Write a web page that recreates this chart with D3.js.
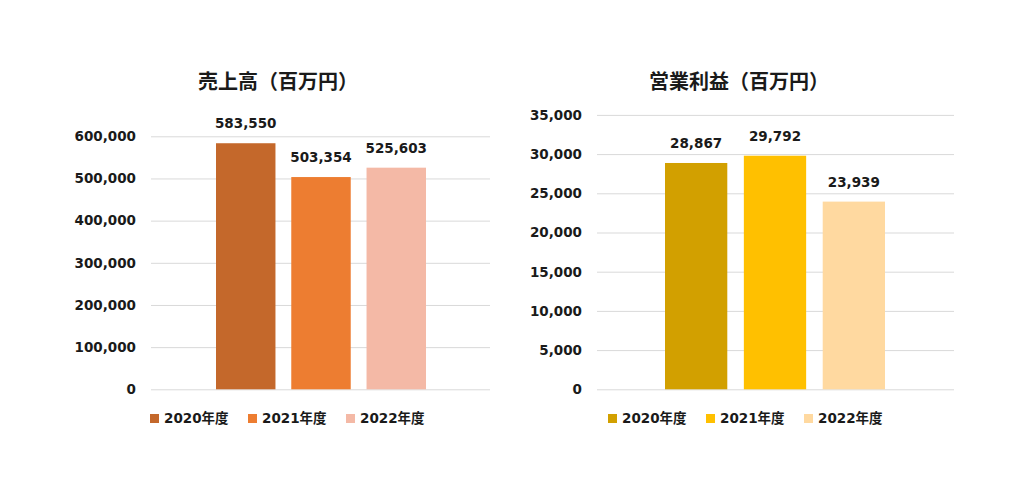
<!DOCTYPE html>
<html lang="ja">
<head>
  <meta charset="UTF-8">
  <title>売上高・営業利益</title>
  <script src="https://d3js.org/d3.v7.min.js"></script>
  <style>
    body {
      margin: 0;
      background: #fff;
    }
    svg, svg text {
      font-family: "DejaVu Sans", "Noto Sans CJK JP", sans-serif;
      font-weight: bold;
    }
    svg {
      display: block;
    }
    .grid line {
      stroke: #d9d9d9;
      stroke-width: 1px;
    }
    .grid .domain {
      display: none;
    }
    .grid text {
      font-size: 13.5px;
      fill: #1a1a1a;
    }
    .title {
      font-size: 20px;
      fill: #1a1a1a;
    }
    .value-label {
      font-size: 13.5px;
      fill: #1a1a1a;
    }
    .legend text {
      font-size: 13.5px;
      fill: #1a1a1a;
    }
  </style>
</head>
<body>
  <svg width="1024" height="482"></svg>

  <script>
    // data
    const years = ["2020年度", "2021年度", "2022年度"];
    const salesValues = [583550, 503354, 525603];
    const profitValues = [28867, 29792, 23939];
    const salesTicks = [0, 100000, 200000, 300000, 400000, 500000, 600000];
    const profitTicks = [0, 5000, 10000, 15000, 20000, 25000, 30000, 35000];
    const salesColors = ["#c4682b", "#ed7d31", "#f4b9a6"];
    const profitColors = ["#d2a000", "#ffc000", "#ffd9a0"];

    const svg = d3.select("svg");
    const fmt = d3.format(",");

    function drawChart(opt) {
      const g = svg.append("g");

      const y = d3.scaleLinear()
        .domain([0, opt.max])
        .range([opt.bottom, opt.top]);

      // one category, three series side by side
      const x = d3.scaleBand()
        .domain(years)
        .range([opt.groupLeft, opt.groupRight])
        .paddingInner(opt.gap)
        .paddingOuter(0);

      g.append("g")
        .attr("class", "grid")
        .attr("transform", `translate(${opt.left},0)`)
        .call(d3.axisLeft(y)
          .tickValues(opt.ticks)
          .tickFormat(fmt)
          .tickSize(-(opt.right - opt.left))
          .tickPadding(15))
        .attr("font-family", null)
        .attr("font-size", null);

      g.append("text")
        .attr("class", "title")
        .attr("x", opt.titleX)
        .attr("y", 89)
        .attr("text-anchor", "middle")
        .text(opt.title);

      g.append("g")
        .selectAll("rect")
        .data(opt.values)
        .join("rect")
        .attr("x", (d, i) => x(years[i]))
        .attr("width", x.bandwidth())
        .attr("y", d => y(d))
        .attr("height", d => y(0) - y(d))
        .attr("fill", (d, i) => opt.colors[i]);

      g.append("g")
        .selectAll("text")
        .data(opt.values)
        .join("text")
        .attr("class", "value-label")
        .attr("x", (d, i) => x(years[i]) + x.bandwidth() / 2)
        .attr("y", d => y(d) - 15)
        .attr("text-anchor", "middle")
        .text(d => fmt(d));

      const legend = g.append("g")
        .attr("class", "legend")
        .selectAll("g")
        .data(years)
        .join("g")
        .attr("transform", (d, i) => `translate(${opt.legendX + i * 98},0)`);

      legend.append("rect")
        .attr("x", 0)
        .attr("y", 414)
        .attr("width", 9)
        .attr("height", 9)
        .attr("fill", (d, i) => opt.colors[i]);

      legend.append("text")
        .attr("x", 14)
        .attr("y", 423)
        .text(d => d);
    }

    drawChart({
      title: "売上高（百万円）",
      titleX: 278,
      values: salesValues,
      ticks: salesTicks,
      max: 600000,
      colors: salesColors,
      left: 151, right: 490,
      top: 136.3, bottom: 389.3,
      groupLeft: 216, groupRight: 426, gap: 0.21,
      legendX: 150
    });

    drawChart({
      title: "営業利益（百万円）",
      titleX: 739,
      values: profitValues,
      ticks: profitTicks,
      max: 35000,
      colors: profitColors,
      left: 597, right: 954,
      top: 114.9, bottom: 389.3,
      groupLeft: 665, groupRight: 885, gap: 0.21,
      legendX: 608
    });
  </script>
</body>
</html>
